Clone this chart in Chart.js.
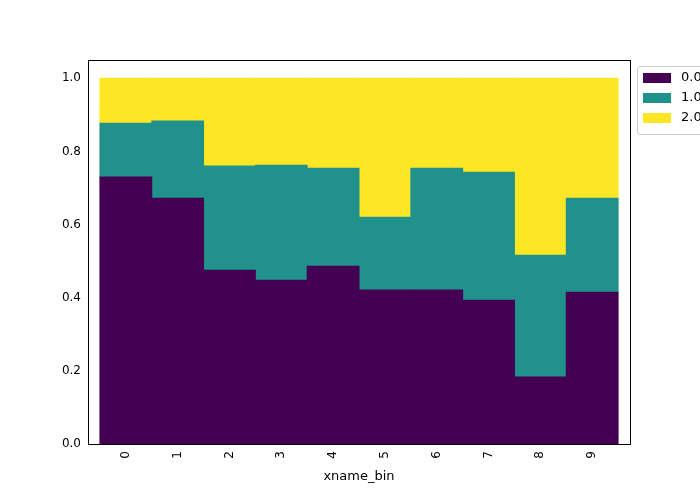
<!DOCTYPE html>
<html>
<head>
<script src="https://cdn.jsdelivr.net/npm/chart.js@4"></script>
<style>body{margin:0;background:#fff}</style>
</head>
<body>
<div style="width:700px;height:500px"><canvas id="c"></canvas></div>
<script>
const bins = [0, 1, 2, 3, 4, 5, 6, 7, 8, 9];
const share0 = [0.730, 0.672, 0.475, 0.448, 0.486, 0.421, 0.421, 0.393, 0.183, 0.415];
const share1 = [0.147, 0.211, 0.285, 0.314, 0.268, 0.199, 0.333, 0.350, 0.333, 0.257];
const share2 = [0.123, 0.117, 0.240, 0.238, 0.246, 0.380, 0.246, 0.257, 0.484, 0.328];
const seriesNames = ["0.0", "1.0", "2.0"];
const colors = ["#440154", "#21918c", "#fde725"];
const yTicks = [0, 0.2, 0.4, 0.6, 0.8, 1.0];

const mk = (vals) => bins.map((b, i) => ({ x: b, y: vals[i] }));
const datasets = [share0, share1, share2].map((v, i) => ({
    label: seriesNames[i], data: mk(v), backgroundColor: colors[i],
    barPercentage: 1, categoryPercentage: 1, borderWidth: 0, inflateAmount: 0.5,
}));

const frameAndLegend = {
    id: "frameAndLegend",
    afterDraw(chart) {
        const ctx = chart.ctx, a = chart.chartArea;
        ctx.save();
        ctx.strokeStyle = "#000"; ctx.lineWidth = 1;
        ctx.strokeRect(a.left + 0.5, a.top + 0.5, a.right - a.left, a.bottom - a.top);
        // legend box
        ctx.strokeStyle = "#ccc";
        ctx.fillStyle = "#fff";
        ctx.beginPath(); ctx.roundRect(637.5, 66.5, 80, 68, 3); ctx.fill(); ctx.stroke();
        ctx.font = "13px 'DejaVu Sans'"; ctx.textBaseline = "middle";
        seriesNames.forEach((n, i) => {
            const y = 78 + i * 20;
            ctx.fillStyle = colors[i]; ctx.fillRect(643, y - 5, 28, 10);
            ctx.fillStyle = "#000"; ctx.fillText(n, 681, y);
        });
        ctx.restore();
    },
};

new Chart(document.getElementById("c"), {
    type: "bar",
    data: { datasets },
    plugins: [frameAndLegend],
    options: {
        responsive: true, maintainAspectRatio: false, animation: false,
        layout: { padding: { top: 60, right: 70, left: 0, bottom: 16 } },
        plugins: { legend: { display: false }, tooltip: { enabled: false } },
        scales: {
            x: {
                type: "linear", stacked: true, min: -0.73, max: 9.73, offset: false,
                grid: { display: false, offset: false, drawTicks: true, tickLength: 4, tickColor: "#000" },
                border: { display: false },
                afterBuildTicks: (s) => { s.ticks = bins.map((b) => ({ value: b })); },
                afterFit: (s) => { s.height = 40; },
                ticks: { color: "#000", font: { family: "DejaVu Sans", size: 12 }, minRotation: 90, maxRotation: 90, callback: (v) => String(v) },
                title: { display: true, text: "xname_bin", color: "#000", font: { family: "DejaVu Sans", size: 13 }, padding: 0 },
            },
            y: {
                stacked: true, min: 0, max: 1.05,
                grid: { display: false, drawTicks: true, tickLength: 4, tickColor: "#000" },
                border: { display: false },
                afterBuildTicks: (s) => { s.ticks = yTicks.map((v) => ({ value: v })); },
                afterFit: (s) => { s.width = 88; },
                ticks: { color: "#000", font: { family: "DejaVu Sans", size: 12 }, callback: (v) => v.toFixed(1) },
            },
        },
    },
});
</script>
</body>
</html>
